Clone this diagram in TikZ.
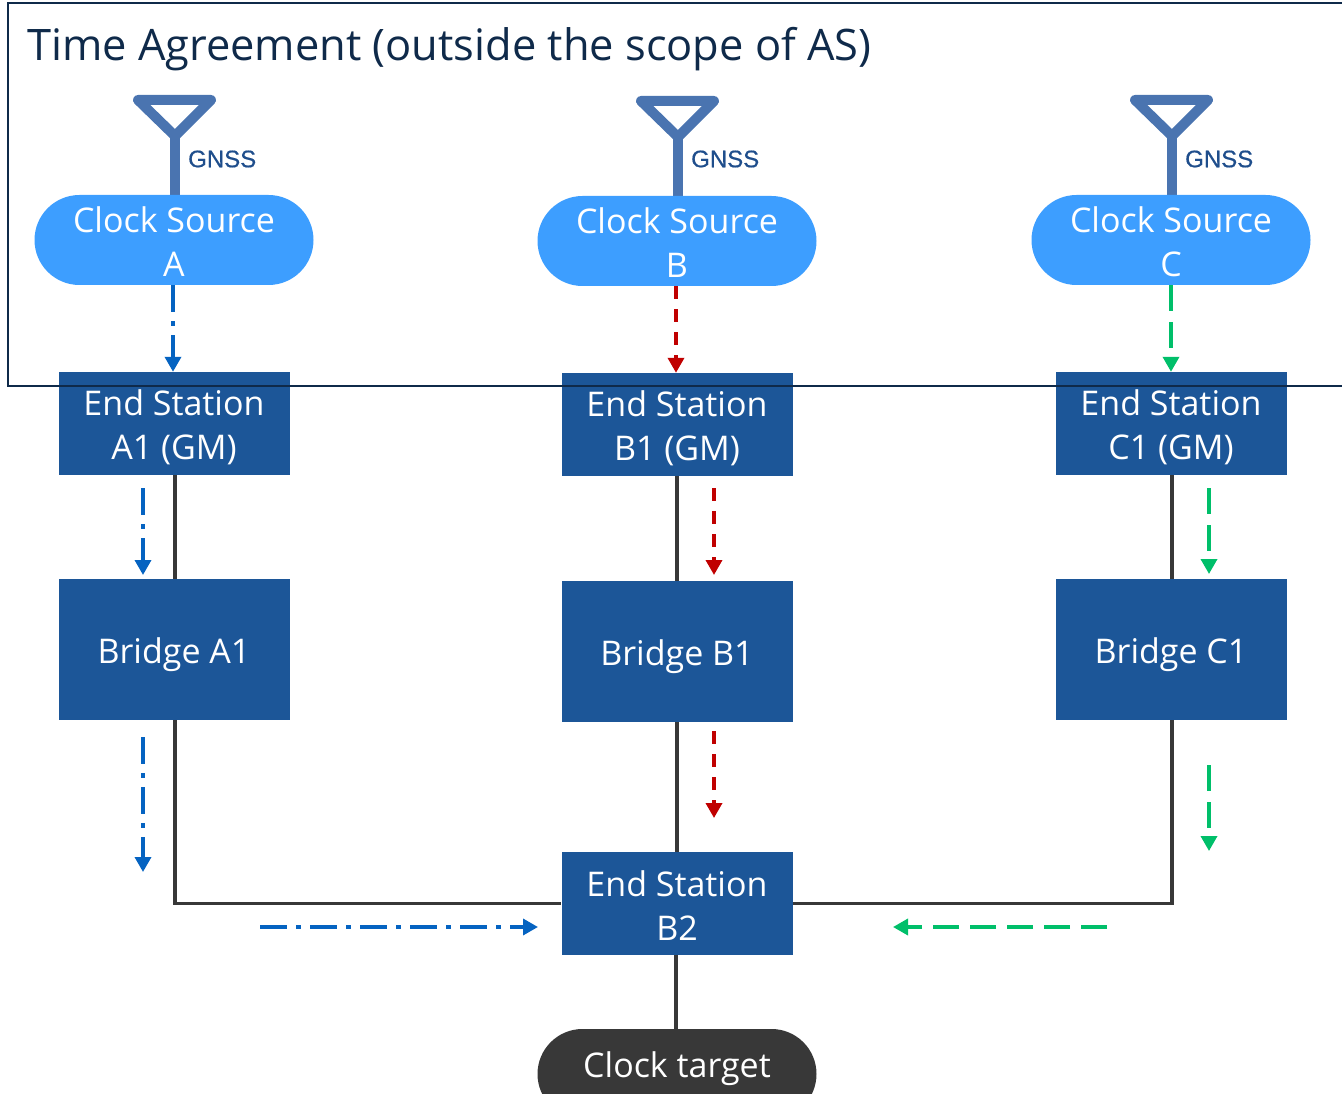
\documentclass[tikz,border=0pt]{standalone}
\usepackage{fontspec}
\setmainfont{Open Sans}
\newfontfamily\gnssfont[FakeBold=0.6]{Liberation Sans}
\usetikzlibrary{arrows.meta}
\definecolor{framecol}{HTML}{0F2A4A}
\definecolor{boxcol}{HTML}{1C5698}
\definecolor{srccol}{HTML}{3D9EFF}
\definecolor{linecol}{HTML}{383838}
\definecolor{antcol}{HTML}{4A74B0}
\definecolor{gnsscol}{HTML}{1F4E8C}
\definecolor{bluecol}{HTML}{0563C1}
\definecolor{redcol}{HTML}{C00000}
\definecolor{greencol}{HTML}{00BF6A}
\newcommand{\DropLine}[1]{\rule{0pt}{#1pt}}
\tikzset{
  SrcStyle/.style = {
    shape = rectangle,
    rounded corners = 45pt,
    fill = srccol,
    text = white,
    inner sep = 0pt,
    minimum width = 279pt,
    minimum height = 90pt,
    align = center,
    font = \fontsize{34}{44}\selectfont},
  BoxStyle/.style = {
    shape = rectangle,
    fill = boxcol,
    text = white,
    inner sep = 0pt,
    minimum width = 231pt,
    align = center,
    font = \fontsize{34}{44}\selectfont},
  AntStyle/.style = {
    draw = antcol,
    line width = 10pt,
    line join = round},
  GnssStyle/.style = {
    text = gnsscol,
    inner sep = 0pt,
    font = \gnssfont\fontsize{24}{24}\selectfont},
  LinkStyle/.style = {
    draw = linecol,
    line width = 3.5pt},
  FlowBlue/.style = {
    draw = bluecol,
    line width = 3.5pt,
    dash pattern = on 27pt off 9pt on 5pt off 9pt,
    -{Triangle[length=15pt,width=16pt]}},
  FlowRed/.style = {
    draw = redcol,
    line width = 3.5pt,
    dash pattern = on 13pt off 10pt,
    -{Triangle[length=15pt,width=16pt]}},
  FlowGreen/.style = {
    draw = greencol,
    line width = 3.5pt,
    dash pattern = on 26pt off 11pt,
    -{Triangle[length=15pt,width=16pt]}}}
\begin{document}
\begin{tikzpicture}[x=1pt,y=-1pt]
  \useasboundingbox (0,0) rectangle (1342,1094);
  \begin{scope}[xshift=174pt]
    \draw[AntStyle] (-36,100) -- (37,100) -- (1,136) -- cycle;
    \draw[AntStyle] (1,136) -- (1,200);
    \node[GnssStyle,anchor=west] (gnssA) at (14,159) {GNSS};
    \node[SrcStyle] (srcA) at (0,240) {\DropLine{29}Clock Source\\A};
    \node[BoxStyle,minimum height=103pt] (endA) at (0,423.5) {\DropLine{33}End Station\\A1 (GM)};
    \node[BoxStyle,minimum height=141pt] (brA) at (0,649.5) {\DropLine{37}Bridge A1};
    \coordinate (fa1) at (-31,488);
    \coordinate (fa2) at (-31,575);
    \coordinate (fa3) at (-31,737);
    \coordinate (fa4) at (-31,872);
  \end{scope}
  \begin{scope}[xshift=677pt]
    \draw[AntStyle] (-36,101) -- (37,101) -- (1,137) -- cycle;
    \draw[AntStyle] (1,137) -- (1,200);
    \node[GnssStyle,anchor=west] (gnssB) at (14,159) {GNSS};
    \node[SrcStyle] (srcB) at (0,241) {\DropLine{29}Clock Source\\B};
    \node[BoxStyle,minimum height=103pt] (endB) at (0,424.5) {\DropLine{33}End Station\\B1 (GM)};
    \node[BoxStyle,minimum height=141pt] (brB) at (0,651.5) {\DropLine{37}Bridge B1};
    \node[BoxStyle,minimum height=103pt] (endBtwo) at (0,903.5) {\DropLine{29}End Station\\B2};
    \node[SrcStyle,fill=linecol] (target) at (0,1074) {\raisebox{18pt}{Clock target}};
    \coordinate (fb1) at (37,488);
    \coordinate (fb2) at (37,575);
    \coordinate (fb3) at (37,731);
    \coordinate (fb4) at (37,818);
  \end{scope}
  \begin{scope}[xshift=1171pt]
    \draw[AntStyle] (-36,100) -- (37,100) -- (1,136) -- cycle;
    \draw[AntStyle] (1,136) -- (1,200);
    \node[GnssStyle,anchor=west] (gnssC) at (14,159) {GNSS};
    \node[SrcStyle] (srcC) at (0,240) {\DropLine{29}Clock Source\\C};
    \node[BoxStyle,minimum height=103pt] (endC) at (0,423.5) {\DropLine{33}End Station\\C1 (GM)};
    \node[BoxStyle,minimum height=141pt] (brC) at (0,649.5) {\DropLine{37}Bridge C1};
    \coordinate (fc1) at (38,488);
    \coordinate (fc2) at (38,574);
    \coordinate (fc3) at (38,765);
    \coordinate (fc4) at (38,851);
  \end{scope}
  %% grey links between the stations
  \draw[LinkStyle] ([xshift=1pt]endA.south) -- ([xshift=1pt]brA.north);
  \draw[LinkStyle] (endB) -- (brB);
  \draw[LinkStyle] ([xshift=1pt]endC.south) -- ([xshift=1pt]brC.north);
  \draw[LinkStyle] (brB) -- (endBtwo);
  \draw[LinkStyle] ([xshift=-1pt]endBtwo.south) -- ([xshift=-1pt]target.north);
  \draw[LinkStyle] ([xshift=1pt]brA.south) |- (endBtwo.west);
  \draw[LinkStyle] ([xshift=1pt]brC.south) |- (endBtwo.east);
  %% time flows
  \draw[FlowBlue] ([xshift=-1pt]srcA.south) -- ([xshift=-1pt]endA.north);
  \draw[FlowRed] ([xshift=-1pt]srcB.south) -- ([xshift=-1pt]endB.north);
  \draw[FlowGreen] (srcC) -- (endC);
  \draw[FlowBlue] (fa1) -- (fa2);
  \draw[FlowBlue] (fa3) -- (fa4);
  \draw[FlowRed] (fb1) -- (fb2);
  \draw[FlowRed] (fb3) -- (fb4);
  \draw[FlowGreen] (fc1) -- (fc2);
  \draw[FlowGreen] (fc3) -- (fc4);
  \coordinate (fa5) at (260,927);
  \coordinate (fa6) at (538,927);
  \coordinate (fc5) at (1107,927);
  \coordinate (fc6) at (893,927);
  \draw[FlowBlue] (fa5) -- (fa6);
  \draw[FlowGreen] (fc5) -- (fc6);
  %% frame comes last, it runs over the end stations
  \coordinate (frameTL) at (8,3);
  \coordinate (frameBR) at (1360,386);
  \draw[framecol,line width=2.5pt] (frameTL) rectangle (frameBR);
  \node[anchor=west,inner sep=0pt,text=framecol,font=\fontsize{43.4}{50}\selectfont] (title) at (27,49) {Time Agreement (outside the scope of AS)};
\end{tikzpicture}
\end{document}
